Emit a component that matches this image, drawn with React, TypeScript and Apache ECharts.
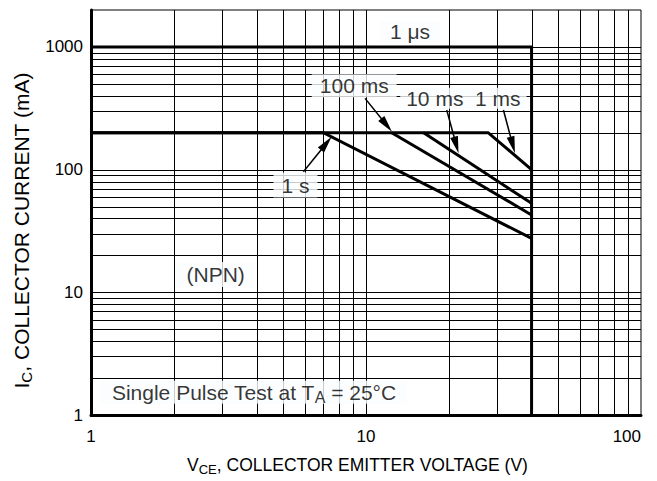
import React, { useEffect, useRef } from "react";
import * as echarts from "echarts";

const FONT = '"Liberation Sans", Arial, Helvetica, sans-serif';

// grid lines (log decades with minor divisions)
const xGridValues = [2, 3, 4, 5, 6, 7, 8, 9, 10, 20, 30, 40, 50, 60, 70, 80, 90];
const yGridValues = [
  2, 3, 4, 5, 6, 7, 8, 9, 10, 20, 30, 40, 50, 60, 70, 80, 90, 100, 200, 300, 400, 500, 600, 700,
  800, 900, 1000,
];

// safe operating area boundaries [VCE (V), IC (mA)]
const limit1us = [
  [1, 1000],
  [40, 1000],
  [40, 1],
];
const pulse1s = [
  [1, 200],
  [7.0, 200],
  [40, 27.5],
];
const pulse100ms = [
  [12.4, 200],
  [40, 42.7],
];
const pulse10ms = [
  [16.2, 200],
  [40, 53.1],
];
const pulse1ms = [
  [1, 200],
  [27.8, 200],
  [40, 100],
];

// annotation arrows: [fromV, fromI, toV, toI]
const arrows = [
  [9.92, 381, 12.43, 204],
  [19.66, 306, 21.7, 136],
  [31.6, 306, 34.8, 136],
  [5.92, 96.1, 7.5, 185],
];

// annotation texts
const noteText = [
  "1 μs",
  "100 ms",
  "10 ms  1 ms",
  "1 s",
  "(NPN)",
  "{a|Single Pulse Test at T}{s|A}{a| = 25°C}",
];
const noteX = [14.45, 9.06, 22.6, 5.54, 2.84, 3.91];
const noteY = [1330, 482, 381, 74.9, 14.0, 1.53];
const notePad = [
  [0, 10],
  [1, 8],
  [0, 6],
  [2, 8],
  [2, 10],
  [1, 11],
];

export default function App() {
  const ref = useRef<HTMLDivElement>(null);

  useEffect(() => {
    if (!ref.current) return;
    const chart = echarts.init(ref.current, undefined, { renderer: "svg" });

    const lineSeries = (name: string, data: number[][]) => ({
      name,
      type: "line",
      data,
      showSymbol: false,
      symbol: "none",
      silent: true,
      z: 3,
      lineStyle: { color: "#000", width: 3, join: "miter" },
    });

    chart.setOption({
      animation: false,
      backgroundColor: "#fff",
      grid: {
        left: 91,
        right: 16,
        top: 10,
        bottom: 66,
        show: true,
        borderColor: "#000",
        borderWidth: 1,
      },
      xAxis: {
        type: "log",
        logBase: 10,
        min: 1,
        max: 100,
        axisLine: { lineStyle: { color: "#000", width: 3 } },
        axisTick: { show: false },
        splitLine: { show: false },
        axisLabel: {
          color: "#000",
          fontSize: 17,
          fontFamily: FONT,
          margin: 13,
          alignMaxLabel: "right",
          formatter: (v: number) => String(Math.round(v)),
        },
        name: "{a|V}{s|CE}{a|, COLLECTOR EMITTER VOLTAGE (V)}",
        nameLocation: "middle",
        nameGap: 39,
        nameTextStyle: {
          padding: [0, 17, 0, 0],
          rich: {
            a: { fontSize: 17.5, fontFamily: FONT, color: "#000", lineHeight: 21 },
            s: {
              fontSize: 13,
              fontFamily: FONT,
              color: "#000",
              lineHeight: 14,
              padding: [10, 0, 0, 0],
            },
          },
        },
      },
      yAxis: {
        type: "log",
        logBase: 10,
        min: 1,
        max: 2000,
        axisLine: { lineStyle: { color: "#000", width: 3 } },
        axisTick: { show: false },
        splitLine: { show: false },
        axisLabel: {
          color: "#000",
          fontSize: 17,
          fontFamily: FONT,
          margin: 8,
          showMaxLabel: false,
          formatter: (v: number) => String(Math.round(v)),
        },
        name: "{a|I}{s|C}{a|, COLLECTOR CURRENT (mA)}",
        nameLocation: "middle",
        nameGap: 55,
        nameRotate: 90,
        nameTextStyle: {
          padding: [0, 36, 0, 0],
          rich: {
            a: { fontSize: 21, fontFamily: FONT, color: "#000", lineHeight: 24 },
            s: {
              fontSize: 15,
              fontFamily: FONT,
              color: "#000",
              lineHeight: 16,
              padding: [11, 0, 0, 0],
            },
          },
        },
      },
      series: [
        {
          name: "vgrid",
          type: "custom",
          silent: true,
          z: 1,
          data: xGridValues.map((v) => [v, 1]),
          encode: { x: 0, y: 1 },
          renderItem: (params: any, api: any) => {
            const cs = params.coordSys;
            const px = Math.round(api.coord([api.value(0), 1])[0]) + 0.5;
            return {
              type: "line",
              shape: { x1: px, y1: cs.y, x2: px, y2: cs.y + cs.height },
              style: { stroke: "#000", lineWidth: 1 },
            };
          },
        },
        {
          name: "hgrid",
          type: "custom",
          silent: true,
          z: 1,
          data: yGridValues.map((v) => [1, v]),
          encode: { x: 0, y: 1 },
          renderItem: (params: any, api: any) => {
            const cs = params.coordSys;
            const py = Math.round(api.coord([1, api.value(1)])[1]) + 0.5;
            return {
              type: "line",
              shape: { x1: cs.x, y1: py, x2: cs.x + cs.width, y2: py },
              style: { stroke: "#000", lineWidth: 1 },
            };
          },
        },
        lineSeries("1 µs", limit1us),
        lineSeries("1 s", pulse1s),
        lineSeries("100 ms", pulse100ms),
        lineSeries("10 ms", pulse10ms),
        lineSeries("1 ms", pulse1ms),
        {
          name: "notes",
          type: "scatter",
          silent: true,
          z: 4,
          symbolSize: 1,
          itemStyle: { color: "rgba(0,0,0,0)" },
          data: noteText.map((t, i) => ({
            value: [noteX[i], noteY[i]],
            label: { formatter: t, padding: notePad[i] },
          })),
          label: {
            show: true,
            position: "inside",
            color: "#000",
            fontSize: 21,
            fontFamily: FONT,
            lineHeight: 21,
            backgroundColor: "#fafcfe",
            rich: {
              a: { fontSize: 21, fontFamily: FONT, color: "#000", lineHeight: 21 },
              s: {
                fontSize: 16,
                fontFamily: FONT,
                color: "#000",
                lineHeight: 16,
                padding: [10, 0, 0, 0],
              },
            },
          },
        },
        {
          name: "arrows",
          type: "custom",
          silent: true,
          z: 5,
          data: arrows,
          encode: { x: [0, 2], y: [1, 3] },
          renderItem: (params: any, api: any) => {
            const p1 = api.coord([api.value(0), api.value(1)]);
            const p2 = api.coord([api.value(2), api.value(3)]);
            const dx = p2[0] - p1[0];
            const dy = p2[1] - p1[1];
            const len = Math.hypot(dx, dy);
            const ux = dx / len;
            const uy = dy / len;
            const headLen = 17;
            const headW = 4;
            const bx = p2[0] - ux * headLen;
            const by = p2[1] - uy * headLen;
            return {
              type: "group",
              children: [
                {
                  type: "line",
                  shape: { x1: p1[0], y1: p1[1], x2: bx + ux * 2, y2: by + uy * 2 },
                  style: { stroke: "#000", lineWidth: 1.5 },
                },
                {
                  type: "polygon",
                  shape: {
                    points: [
                      [p2[0], p2[1]],
                      [bx - uy * headW, by + ux * headW],
                      [bx + uy * headW, by - ux * headW],
                    ],
                  },
                  style: { fill: "#000" },
                },
              ],
            };
          },
        },
      ],
    });

    return () => chart.dispose();
  }, []);

  return (
    <div
      ref={ref}
      style={{ position: "fixed", left: 0, top: 0, width: 657, height: 481, background: "#fff" }}
    />
  );
}
